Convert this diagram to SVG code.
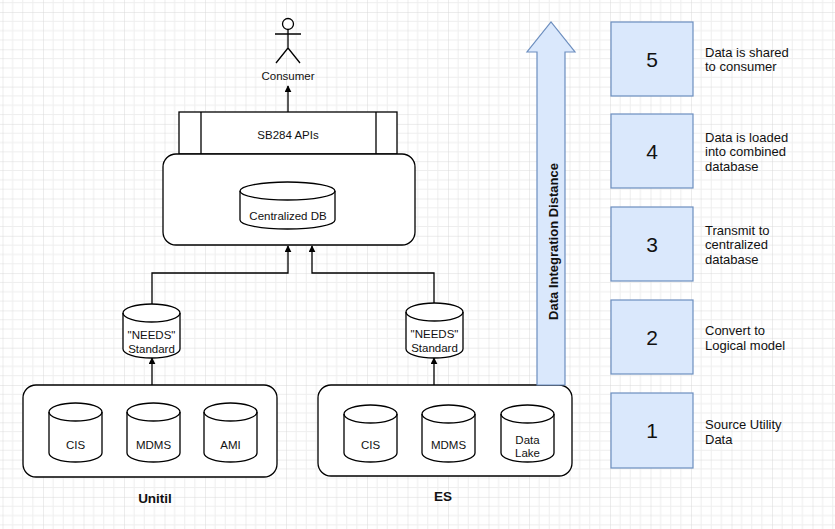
<svg xmlns="http://www.w3.org/2000/svg" width="835" height="529" viewBox="0 0 835 529">
<defs>
<pattern id="grid" x="2.5" y="12" width="40.5" height="37.3" patternUnits="userSpaceOnUse">
<path d="M10.1,0V37.3M20.25,0V37.3M30.4,0V37.3M0,9.3H40.5M0,18.65H40.5M0,28H40.5" stroke="#eeeeee" stroke-width="1" fill="none"/>
<path d="M0,0V37.3M0,0H40.5" stroke="#d9d9d9" stroke-width="1" fill="none"/>
</pattern>
<marker id="arr" viewBox="0 0 10 10" refX="9" refY="5" markerWidth="7" markerHeight="7" markerUnits="userSpaceOnUse" orient="auto">
<path d="M0,0L10,5L0,10z" fill="#000"/>
</marker>
<style>
.ln{fill:none;stroke:#000;stroke-width:1.3}
.sh{fill:#fff;stroke:#000;stroke-width:1.3}
.bl{fill:#dae8fc;stroke:#6c8ebf;stroke-width:1.2}
text{font-family:"Liberation Sans",Arial,sans-serif;fill:#111;text-anchor:middle}
.s{font-size:11.5px}
.b{font-size:13.5px;font-weight:bold}
.n{font-size:21px}
.d{font-size:13px;text-anchor:start}
</style>
</defs>
<rect width="835" height="529" fill="#fff"/>
<rect width="835" height="529" fill="url(#grid)"/>

<g id="connectors">
<path class="ln" d="M288,112V86" marker-end="url(#arr)"/>
<path class="ln" d="M152,304V273H288V246" marker-end="url(#arr)"/>
<path class="ln" d="M434,303V273H312V246" marker-end="url(#arr)"/>
<path class="ln" d="M152,385V358" marker-end="url(#arr)"/>
<path class="ln" d="M434,385V358" marker-end="url(#arr)"/>
</g>

<g id="consumer">
<circle class="sh" cx="288" cy="24" r="5.5"/>
<path class="ln" d="M288,29.5V48M275,34H301M288,48L276,63M288,48L300,63"/>
<text class="s" x="288" y="80">Consumer</text>
</g>

<g id="apis">
<rect class="sh" x="179" y="112" width="218" height="42"/>
<path class="ln" d="M201,112V154M376,112V154"/>
<text class="s" x="288" y="139">SB284 APIs</text>
</g>

<g id="central">
<rect class="sh" x="163" y="154" width="252" height="91" rx="13"/>
</g>

<g id="centralized-db">
<path class="sh" d="M240,191a47.5,9 0 0 1 95,0v29a47.5,9 0 0 1 -95,0z"/>
<path class="ln" d="M240,191a47.5,9 0 0 0 95,0"/>
<text class="s" x="288" y="220">Centralized DB</text>
</g>

<g id="needs-left">
<path class="sh" d="M123,313a28.5,9 0 0 1 57,0v36a28.5,9 0 0 1 -57,0z"/>
<path class="ln" d="M123,313a28.5,9 0 0 0 57,0"/>
<text class="s" x="151.5" y="339">"NEEDS"</text>
<text class="s" x="151.5" y="353">Standard</text>
</g>

<g id="needs-right">
<path class="sh" d="M406,312a28.5,9 0 0 1 57,0v37a28.5,9 0 0 1 -57,0z"/>
<path class="ln" d="M406,312a28.5,9 0 0 0 57,0"/>
<text class="s" x="434.5" y="338">"NEEDS"</text>
<text class="s" x="434.5" y="352">Standard</text>
</g>

<g id="unitil">
<rect class="sh" x="23" y="385" width="254" height="92" rx="13"/>
<text class="b" x="155" y="503">Unitil</text>
</g>
<g id="unitil-cis">
<path class="sh" d="M49,412a26.5,9 0 0 1 53,0v41a26.5,9 0 0 1 -53,0z"/>
<path class="ln" d="M49,412a26.5,9 0 0 0 53,0"/>
<text class="s" x="75.5" y="449">CIS</text>
</g>
<g id="unitil-mdms">
<path class="sh" d="M127,412a26.5,9 0 0 1 53,0v41a26.5,9 0 0 1 -53,0z"/>
<path class="ln" d="M127,412a26.5,9 0 0 0 53,0"/>
<text class="s" x="153.5" y="449">MDMS</text>
</g>
<g id="unitil-ami">
<path class="sh" d="M204,412a26.5,9 0 0 1 53,0v41a26.5,9 0 0 1 -53,0z"/>
<path class="ln" d="M204,412a26.5,9 0 0 0 53,0"/>
<text class="s" x="230.5" y="449">AMI</text>
</g>

<g id="es">
<rect class="sh" x="318" y="385" width="254" height="91" rx="13"/>
<text class="b" x="443" y="501">ES</text>
</g>
<g id="es-cis">
<path class="sh" d="M344,414a26.5,9 0 0 1 53,0v39a26.5,9 0 0 1 -53,0z"/>
<path class="ln" d="M344,414a26.5,9 0 0 0 53,0"/>
<text class="s" x="370.5" y="449">CIS</text>
</g>
<g id="es-mdms">
<path class="sh" d="M422,414a26.5,9 0 0 1 53,0v39a26.5,9 0 0 1 -53,0z"/>
<path class="ln" d="M422,414a26.5,9 0 0 0 53,0"/>
<text class="s" x="448.5" y="449">MDMS</text>
</g>
<g id="es-datalake">
<path class="sh" d="M501,414a26.5,9 0 0 1 53,0v39a26.5,9 0 0 1 -53,0z"/>
<path class="ln" d="M501,414a26.5,9 0 0 0 53,0"/>
<text class="s" x="527.5" y="444">Data</text>
<text class="s" x="527.5" y="457">Lake</text>
</g>

<g id="integration-arrow">
<polygon class="bl" points="537,385 537,52 527,52 551,22 575,52 565,52 565,385"/>
<text class="b" style="font-size:13px" transform="translate(557.5,241.5) rotate(-90)">Data Integration Distance</text>
</g>

<g id="step5">
<rect class="bl" x="611" y="22" width="82" height="74"/>
<text class="n" x="652" y="67">5</text>
<text class="d" x="705" y="56.5">Data is shared</text>
<text class="d" x="705" y="71">to consumer</text>
</g>
<g id="step4">
<rect class="bl" x="611" y="114" width="82" height="74"/>
<text class="n" x="652" y="159">4</text>
<text class="d" x="705" y="141.5">Data is loaded</text>
<text class="d" x="705" y="156">into combined</text>
<text class="d" x="705" y="170.5">database</text>
</g>
<g id="step3">
<rect class="bl" x="611" y="207" width="82" height="74"/>
<text class="n" x="652" y="252">3</text>
<text class="d" x="705" y="234.5">Transmit to</text>
<text class="d" x="705" y="249">centralized</text>
<text class="d" x="705" y="263.5">database</text>
</g>
<g id="step2">
<rect class="bl" x="611" y="300" width="82" height="74"/>
<text class="n" x="652" y="345">2</text>
<text class="d" x="705" y="335">Convert to</text>
<text class="d" x="705" y="349.5">Logical model</text>
</g>
<g id="step1">
<rect class="bl" x="611" y="393" width="82" height="75"/>
<text class="n" x="652" y="438">1</text>
<text class="d" x="705" y="429">Source Utility</text>
<text class="d" x="705" y="443.5">Data</text>
</g>
</svg>
